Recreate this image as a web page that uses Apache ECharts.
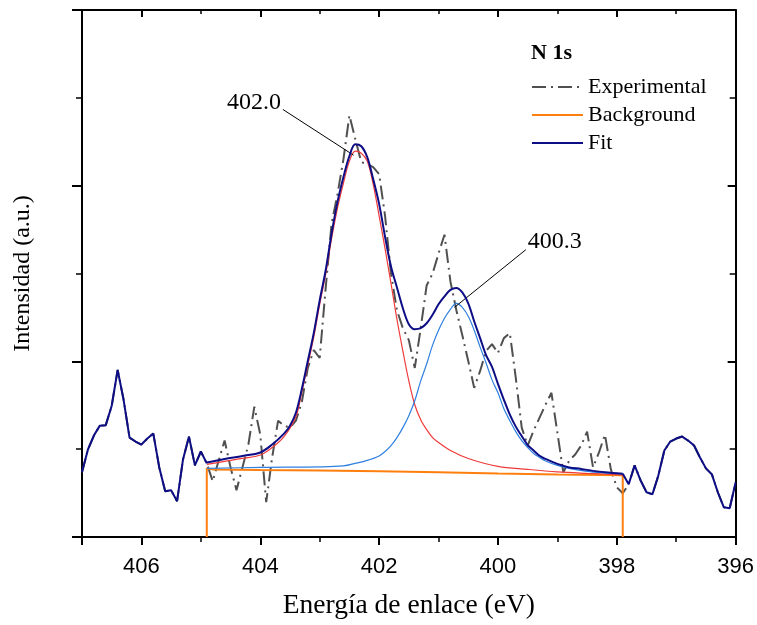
<!DOCTYPE html>
<html>
<head>
<meta charset="utf-8">
<title>N 1s</title>
<script src="https://cdn.jsdelivr.net/npm/echarts@6/dist/echarts.min.js"></script>
<style>
  html, body { margin: 0; padding: 0; background: #fff; }
  #chart { width: 757px; height: 625px; }
</style>
</head>
<body>
<div id="chart"></div>
<script>
// Binding energy grid of the measured spectrum (eV)
const expEnergy = [
  407.0, 406.9, 406.8, 406.7, 406.6, 406.5, 406.4, 406.3, 406.2, 406.1,
  406.0, 405.9, 405.8, 405.7, 405.6, 405.5, 405.4, 405.3, 405.2, 405.1,
  405.0, 404.9, 404.8, 404.7, 404.6, 404.5, 404.4, 404.3, 404.2, 404.1,
  404.0, 403.9, 403.8, 403.7, 403.6, 403.5, 403.4, 403.3, 403.2, 403.1,
  403.0, 402.9, 402.8, 402.7, 402.6, 402.5, 402.4, 402.3, 402.2, 402.1,
  402.0, 401.9, 401.8, 401.7, 401.6, 401.5, 401.4, 401.3, 401.2, 401.1,
  401.0, 400.9, 400.8, 400.7, 400.6, 400.5, 400.4, 400.3, 400.2, 400.1,
  400.0, 399.9, 399.8, 399.7, 399.6, 399.5, 399.4, 399.3, 399.2, 399.1,
  399.0, 398.9, 398.8, 398.7, 398.6, 398.5, 398.4, 398.3, 398.2, 398.1,
  398.0, 397.9, 397.8, 397.7, 397.6, 397.5, 397.4, 397.3, 397.2, 397.1,
  397.0, 396.9, 396.8, 396.7, 396.6, 396.5, 396.4, 396.3, 396.2, 396.1,
  396.0
];

// Measured N 1s intensity (a.u.)
const expIntensity = [
  65, 88, 102, 112, 112.5, 132, 168, 138, 100, 96,
  93, 99, 104, 70, 46, 47, 36, 78, 101, 72,
  86, 74, 56, 77, 97, 70, 47, 70, 93, 131,
  103, 35, 80, 117, 112, 110, 117, 136, 170, 188,
  180, 250, 315, 345, 380, 424, 400, 377, 375, 372,
  365, 323, 265, 228, 210, 198, 170, 210, 253, 265,
  285, 304, 257, 228, 203, 177, 150, 167, 187, 194,
  185, 200, 205, 160, 110, 92, 107, 120, 133, 145,
  105, 65, 77, 83, 92, 106, 70, 85, 103, 68,
  50, 44, 53, 72, 57, 45, 43, 62, 87, 96,
  99, 101, 97, 92, 80, 69, 63, 45, 30, 29,
  55
];

// Fitting window limits (eV)
const fitWindow = [404.9, 397.9];

// Background under the fitting window [eV, a.u.]
const background = [
  [404.9, 0], [404.9, 69], [404.8, 68], [404.0, 67.5], [403.0, 67],
  [402.0, 66], [401.0, 65], [400.0, 63.8], [399.0, 62.8], [397.9, 62], [397.9, 0]
];

// Component at 402.0 eV (including background) [eV, a.u.]
const peakHigh = [
  [404.9, 73], [404.6, 76], [404.3, 79], [404.0, 82.5], [403.8, 90],
  [403.6, 101], [403.4, 121], [403.3, 146], [403.2, 173], [403.1, 201],
  [403.0, 234], [402.9, 264], [402.8, 300], [402.7, 331], [402.6, 356],
  [402.5, 378], [402.4, 388], [402.3, 386], [402.2, 378], [402.1, 355],
  [402.0, 323], [401.9, 290], [401.8, 255], [401.7, 219], [401.6, 187],
  [401.5, 157], [401.4, 133], [401.3, 118], [401.2, 108], [401.1, 100],
  [401.0, 95], [400.8, 87], [400.5, 79], [400.0, 71], [399.5, 68],
  [399.0, 65.5], [398.5, 64], [397.9, 62.5]
];

// Component at 400.3 eV (including background) [eV, a.u.]
const peakLow = [
  [404.9, 69], [404.0, 70], [403.0, 70.5], [402.6, 71.5], [402.4, 74],
  [402.2, 77], [402.0, 81.5], [401.9, 86], [401.8, 92], [401.7, 100],
  [401.6, 110], [401.5, 122], [401.4, 137], [401.3, 157], [401.2, 174],
  [401.1, 193], [401.0, 208], [400.9, 220], [400.8, 229], [400.7, 235],
  [400.6, 231], [400.5, 222], [400.4, 208], [400.3, 191], [400.2, 175],
  [400.1, 158], [400.0, 145], [399.9, 129], [399.8, 117], [399.7, 106],
  [399.6, 97], [399.5, 90], [399.4, 84], [399.3, 80], [399.2, 76.5],
  [399.0, 72], [398.8, 69], [398.5, 66], [398.2, 64.5], [397.9, 63.5]
];

// Fit envelope inside the window [eV, a.u.]
const fitEnvelope = [
  [404.9, 75], [404.6, 78.5], [404.3, 81.5], [404.0, 85], [403.8, 93],
  [403.6, 104], [403.5, 112], [403.4, 125], [403.3, 149], [403.2, 177],
  [403.1, 205], [403.0, 238], [402.9, 268], [402.8, 305], [402.7, 337],
  [402.6, 362], [402.5, 383], [402.4, 395], [402.3, 393], [402.2, 382],
  [402.1, 360], [402.0, 335], [401.9, 302], [401.8, 272], [401.7, 251],
  [401.6, 230], [401.5, 214], [401.4, 209], [401.3, 210], [401.2, 215],
  [401.1, 223.5], [401.0, 234], [400.9, 242], [400.8, 248.5], [400.7, 250.5],
  [400.6, 246], [400.5, 235], [400.4, 217], [400.3, 200], [400.2, 183],
  [400.1, 171], [400.0, 154], [399.9, 138], [399.8, 123], [399.7, 111],
  [399.6, 101.5], [399.5, 92.5], [399.4, 87], [399.3, 81.7], [399.2, 78.5],
  [399.0, 73.5], [398.8, 70], [398.6, 68.5], [398.4, 66.5], [398.2, 65],
  [397.9, 63.5]
];

// Peak assignments
const peakLabels = ['402.0', '400.3'];

// Axis ticks
const xTicks = [406, 404, 402, 400, 398, 396];
const xRange = [396, 407];
const yRange = [0, 530];

// ---------------------------------------------------------------------------
const experimental = expEnergy.map((e, i) => [e, expIntensity[i]]);
// Outside the window the envelope follows the raw spectrum
const fitOuterLeft = experimental.filter(p => p[0] >= fitWindow[0] - 1e-9);
const fitOuterRight = [fitEnvelope[fitEnvelope.length - 1]]
  .concat(experimental.filter(p => p[0] < fitWindow[1] - 1e-9));

function peakOf(curve) {
  return curve.reduce((best, p) => (p[1] > best[1] ? p : best), curve[0]);
}
const topHigh = peakOf(peakHigh);
const topLow = peakOf(peakLow);

const serif = '"Liberation Serif", "Times New Roman", serif';
const sans = '"Liberation Sans", Arial, sans-serif';
const navy = '#0d0d85';

const chart = echarts.init(document.getElementById('chart'), null, { renderer: 'canvas' });

const yInterval = (yRange[1] - yRange[0]) / 3;

function annotation(top, text, textAt, lineFrom) {
  return {
    markLine: {
      silent: true,
      symbol: ['none', 'none'],
      animation: false,
      label: { show: false },
      lineStyle: { color: '#000', width: 1, type: 'solid' },
      data: [[{ coord: lineFrom }, { coord: [top[0] + 0.03, top[1] - 4] }]]
    },
    markPoint: {
      silent: true,
      animation: false,
      symbol: 'circle',
      symbolSize: 0,
      itemStyle: { color: 'transparent' },
      label: {
        show: true, position: 'inside', formatter: text,
        color: '#000', fontFamily: serif, fontSize: 24
      },
      data: [{ coord: textAt }]
    }
  };
}

const option = {
  animation: false,
  backgroundColor: '#fff',
  grid: { left: 82, right: 21, top: 10, bottom: 85 },
  title: {
    text: 'N 1s',
    left: 531, top: 42, padding: 0,
    textStyle: { fontFamily: serif, fontSize: 22, fontWeight: 'bold', color: '#000' }
  },
  legend: {
    data: ['Experimental', 'Background', 'Fit'],
    orient: 'vertical',
    left: 531, top: 76, padding: 0,
    itemWidth: 51, itemHeight: 14, itemGap: 6,
    selectedMode: false,
    itemStyle: { opacity: 0 },
    textStyle: { fontFamily: serif, fontSize: 22, color: '#000' }
  },
  xAxis: [
    {
      type: 'value', min: xRange[0], max: xRange[1], interval: 2, inverse: true,
      position: 'bottom',
      name: 'Energía de enlace (eV)', nameLocation: 'middle', nameGap: 55,
      nameTextStyle: { fontFamily: serif, fontSize: 27.5, color: '#000' },
      axisLine: { onZero: false, lineStyle: { color: '#000', width: 2 } },
      axisTick: { inside: false, length: 8, lineStyle: { color: '#000', width: 2 } },
      minorTick: { show: true, splitNumber: 2, length: 5, lineStyle: { color: '#000', width: 1.5 } },
      axisLabel: {
        fontFamily: sans, fontSize: 22, color: '#000', margin: 19,
        formatter: v => (xTicks.indexOf(v) >= 0 ? String(v) : '')
      },
      splitLine: { show: false }
    },
    {
      type: 'value', min: xRange[0], max: xRange[1], interval: 2, inverse: true,
      position: 'top',
      axisLine: { onZero: false, lineStyle: { color: '#000', width: 2 } },
      axisTick: { inside: true, length: 7, lineStyle: { color: '#000', width: 2 } },
      minorTick: { show: true, splitNumber: 2, length: 4, lineStyle: { color: '#000', width: 1.5 } },
      axisLabel: { show: false },
      splitLine: { show: false }
    }
  ],
  yAxis: [
    {
      type: 'value', min: yRange[0], max: yRange[1], interval: yInterval,
      position: 'left',
      name: 'Intensidad (a.u.)', nameLocation: 'middle', nameGap: 47,
      nameTextStyle: { fontFamily: serif, fontSize: 24, color: '#000' },
      axisLine: { onZero: false, lineStyle: { color: '#000', width: 2 } },
      axisTick: { inside: false, length: 10, lineStyle: { color: '#000', width: 2 } },
      minorTick: { show: true, splitNumber: 2, length: 6, lineStyle: { color: '#000', width: 1.5 } },
      axisLabel: { show: false },
      splitLine: { show: false }
    },
    {
      type: 'value', min: yRange[0], max: yRange[1], interval: yInterval,
      position: 'right',
      axisLine: { onZero: false, lineStyle: { color: '#000', width: 2 } },
      axisTick: { inside: true, length: 8, lineStyle: { color: '#000', width: 2 } },
      minorTick: { show: true, splitNumber: 2, length: 6, lineStyle: { color: '#000', width: 1.5 } },
      axisLabel: { show: false },
      splitLine: { show: false }
    }
  ],
  series: [
    {
      name: 'Experimental', type: 'line', data: experimental,
      symbol: 'none', z: 2,
      lineStyle: { color: '#505050', width: 2, type: [14, 5, 2, 5] },
      itemStyle: { color: '#505050' }
    },
    {
      name: 'Background', type: 'line', data: background,
      symbol: 'none', z: 3,
      lineStyle: { color: '#ff7f0e', width: 2 },
      itemStyle: { color: '#ff7f0e' }
    },
    Object.assign({
      name: 'N 1s 402.0', type: 'line', data: peakHigh,
      symbol: 'none', smooth: 0.35, z: 4,
      lineStyle: { color: '#f03a3a', width: 1.2 },
      itemStyle: { color: '#f03a3a' }
    }, annotation(topHigh, peakLabels[0], [404.107, 437], [403.62, 430])),
    Object.assign({
      name: 'N 1s 400.3', type: 'line', data: peakLow,
      symbol: 'none', smooth: 0.35, z: 4,
      lineStyle: { color: '#2f80e0', width: 1.2 },
      itemStyle: { color: '#2f80e0' }
    }, annotation(topLow, peakLabels[1], [399.044, 297], [399.53, 289])),
    {
      name: 'Fit', type: 'line', data: fitEnvelope,
      symbol: 'none', smooth: 0.35, z: 5,
      lineStyle: { color: navy, width: 2 },
      itemStyle: { color: navy }
    },
    {
      name: 'Fit', type: 'line', data: fitOuterLeft,
      symbol: 'none', z: 5,
      lineStyle: { color: navy, width: 2 },
      itemStyle: { color: navy }
    },
    {
      name: 'Fit', type: 'line', data: fitOuterRight,
      symbol: 'none', z: 5,
      lineStyle: { color: navy, width: 2 },
      itemStyle: { color: navy }
    }
  ]
};

chart.setOption(option);
</script>
</body>
</html>
